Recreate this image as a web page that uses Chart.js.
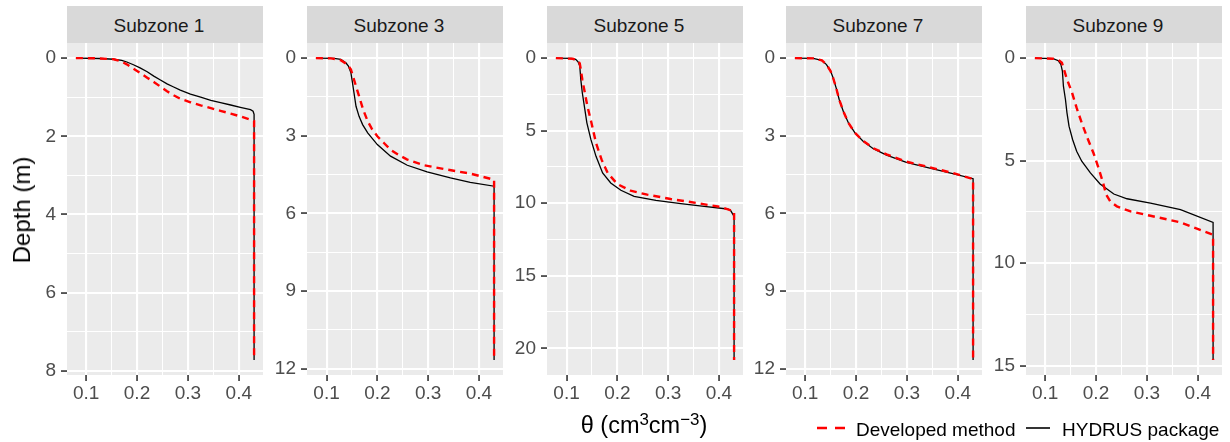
<!DOCTYPE html>
<html><head><meta charset="utf-8">
<script src="https://cdn.jsdelivr.net/npm/chart.js@4.4.1/dist/chart.umd.min.js"></script>
<style>
body{margin:0;width:1230px;height:442px;background:#fff;position:relative;overflow:hidden;font-family:"Liberation Sans",Arial,sans-serif;}
.strip{position:absolute;top:6px;height:37px;line-height:37px;padding-top:1px;padding-right:12px;box-sizing:border-box;background:#D9D9D9;color:#1A1A1A;font-size:19px;text-align:center;}
.cv{position:absolute;top:43px;}
.ytitle{position:absolute;left:22px;top:210px;transform:translate(-50%,-50%) rotate(-90deg);font-size:24px;color:#000;white-space:nowrap;line-height:1;}
.xtitle{position:absolute;left:444px;width:400px;top:414px;text-align:center;font-size:23.5px;line-height:1;color:#000;white-space:nowrap;}
.xtitle .sp{position:relative;top:-0.45em;font-size:0.72em;line-height:0;}
.leg{position:absolute;top:420px;font-size:19px;line-height:1;color:#000;white-space:nowrap;}
.key{position:absolute;top:418px;}
</style></head><body>
<div id="root"></div>
<div class="ytitle">Depth (m)</div>
<div class="xtitle">θ (cm<span class="sp">3</span>cm<span class="sp">−3</span>)</div>
<svg class="key" style="left:815px" width="32" height="20"><line x1="2" y1="10" x2="30" y2="10" stroke="#FF0000" stroke-width="2.6" stroke-dasharray="10,8"/></svg>
<div class="leg" style="left:856px">Developed method</div>
<svg class="key" style="left:1024px" width="28" height="20"><line x1="2" y1="10" x2="26" y2="10" stroke="#000" stroke-width="1.6"/></svg>
<div class="leg" style="left:1062px">HYDRUS package</div>
<script>
// ---- data ----
const panelTitles = ['Subzone 1', 'Subzone 3', 'Subzone 5', 'Subzone 7', 'Subzone 9'];
const seriesNames = ['Developed method', 'HYDRUS package'];
const xTickLabels = [0.1, 0.2, 0.3, 0.4];
const yTicks1 = [0, 2, 4, 6, 8];
const yTicks3 = [0, 3, 6, 9, 12];
const yTicks5 = [0, 5, 10, 15, 20];
const yTicks7 = [0, 3, 6, 9, 12];
const yTicks9 = [0, 5, 10, 15];

// Subzone 1
const sz1DevTheta = [0.08, 0.12, 0.154, 0.168, 0.18, 0.193, 0.206, 0.22, 0.233, 0.246, 0.259, 0.272, 0.285, 0.305, 0.325, 0.345, 0.364, 0.384, 0.403, 0.43, 0.43];
const sz1DevDepth = [0, 0.005, 0.03, 0.08, 0.16, 0.27, 0.38, 0.5, 0.61, 0.73, 0.85, 0.95, 1.04, 1.13, 1.21, 1.28, 1.35, 1.42, 1.49, 1.61, 7.72];
const sz1HydTheta = [0.08, 0.128, 0.154, 0.17, 0.18, 0.193, 0.206, 0.22, 0.233, 0.246, 0.259, 0.272, 0.285, 0.305, 0.325, 0.345, 0.364, 0.384, 0.403, 0.423, 0.428, 0.43, 0.43];
const sz1HydDepth = [0, 0.01, 0.03, 0.06, 0.1, 0.17, 0.25, 0.35, 0.46, 0.56, 0.66, 0.74, 0.82, 0.92, 1.0, 1.08, 1.14, 1.2, 1.26, 1.32, 1.36, 1.44, 7.72];
// Subzone 3
const sz3DevTheta = [0.079, 0.109, 0.128, 0.141, 0.148, 0.154, 0.164, 0.172, 0.181, 0.19, 0.2, 0.213, 0.226, 0.242, 0.259, 0.292, 0.338, 0.383, 0.43, 0.43];
const sz3DevDepth = [0, 0.01, 0.08, 0.25, 0.44, 0.83, 1.47, 1.99, 2.44, 2.76, 3.02, 3.28, 3.54, 3.74, 3.92, 4.14, 4.31, 4.46, 4.7, 11.66];
const sz3HydTheta = [0.079, 0.115, 0.128, 0.138, 0.143, 0.148, 0.151, 0.154, 0.158, 0.164, 0.171, 0.181, 0.2, 0.226, 0.259, 0.298, 0.344, 0.383, 0.43, 0.43];
const sz3HydDepth = [0, 0.01, 0.05, 0.18, 0.31, 0.57, 0.95, 1.34, 1.86, 2.25, 2.57, 2.89, 3.34, 3.79, 4.14, 4.4, 4.63, 4.8, 4.95, 11.66];
// Subzone 5
const sz5DevTheta = [0.079, 0.112, 0.122, 0.126, 0.128, 0.131, 0.136, 0.141, 0.149, 0.158, 0.169, 0.181, 0.2, 0.226, 0.259, 0.305, 0.357, 0.403, 0.43, 0.43];
const sz5DevDepth = [0, 0.05, 0.16, 0.37, 0.78, 1.47, 2.39, 3.31, 4.46, 5.85, 7.0, 7.92, 8.68, 9.14, 9.41, 9.71, 9.99, 10.26, 10.56, 20.8];
const sz5HydTheta = [0.079, 0.109, 0.118, 0.123, 0.126, 0.128, 0.131, 0.135, 0.14, 0.148, 0.158, 0.171, 0.187, 0.207, 0.233, 0.276, 0.325, 0.371, 0.417, 0.423, 0.43, 0.43];
const sz5HydDepth = [0, 0.02, 0.09, 0.28, 0.55, 1.47, 2.39, 3.31, 4.46, 5.62, 6.77, 7.92, 8.61, 9.11, 9.53, 9.8, 10.03, 10.22, 10.4, 10.49, 10.91, 20.8];
// Subzone 7
const sz7DevTheta = [0.08, 0.116, 0.133, 0.142, 0.15, 0.155, 0.161, 0.167, 0.175, 0.185, 0.198, 0.214, 0.234, 0.26, 0.299, 0.345, 0.39, 0.43, 0.43];
const sz7DevDepth = [0, 0.01, 0.09, 0.25, 0.5, 0.76, 1.15, 1.6, 2.05, 2.5, 2.89, 3.2, 3.48, 3.72, 4.0, 4.22, 4.44, 4.67, 11.66];
const sz7HydTheta = [0.08, 0.116, 0.133, 0.142, 0.15, 0.155, 0.161, 0.167, 0.175, 0.185, 0.198, 0.214, 0.234, 0.26, 0.299, 0.345, 0.39, 0.43, 0.43];
const sz7HydDepth = [0, 0.01, 0.09, 0.25, 0.5, 0.76, 1.15, 1.6, 2.05, 2.5, 2.89, 3.21, 3.5, 3.75, 4.03, 4.25, 4.46, 4.66, 11.66];
// Subzone 9
const sz9DevTheta = [0.08, 0.116, 0.126, 0.133, 0.137, 0.143, 0.153, 0.162, 0.172, 0.183, 0.195, 0.205, 0.214, 0.22, 0.228, 0.241, 0.268, 0.307, 0.366, 0.43, 0.43];
const sz9DevDepth = [0, 0.03, 0.08, 0.23, 0.55, 1.04, 1.69, 2.43, 3.16, 3.89, 4.63, 5.36, 6.09, 6.66, 6.99, 7.23, 7.48, 7.69, 8.01, 8.62, 14.72];
const sz9HydTheta = [0.08, 0.116, 0.126, 0.131, 0.134, 0.136, 0.14, 0.143, 0.147, 0.154, 0.162, 0.172, 0.189, 0.208, 0.235, 0.261, 0.307, 0.366, 0.43, 0.43];
const sz9HydDepth = [0, 0.03, 0.13, 0.31, 0.64, 1.37, 2.02, 2.67, 3.32, 3.97, 4.54, 5.03, 5.6, 6.14, 6.63, 6.86, 7.07, 7.39, 8.01, 14.72];

// ---- layout ----
const panels = [
  {title: panelTitles[0], yTicks: yTicks1, dev: [sz1DevTheta, sz1DevDepth], hyd: [sz1HydTheta, sz1HydDepth]},
  {title: panelTitles[1], yTicks: yTicks3, dev: [sz3DevTheta, sz3DevDepth], hyd: [sz3HydTheta, sz3HydDepth]},
  {title: panelTitles[2], yTicks: yTicks5, dev: [sz5DevTheta, sz5DevDepth], hyd: [sz5HydTheta, sz5HydDepth]},
  {title: panelTitles[3], yTicks: yTicks7, dev: [sz7DevTheta, sz7DevDepth], hyd: [sz7HydTheta, sz7HydDepth]},
  {title: panelTitles[4], yTicks: yTicks9, dev: [sz9DevTheta, sz9DevDepth], hyd: [sz9HydTheta, sz9HydDepth]}
];
const panelLeft = [67, 307, 547, 786, 1026];
const panelW = 196, panelH = 332, yAxisW = 46, xAxisH = 42;
const FONT = '"Liberation Sans", Arial, sans-serif';

function withMinor(major) {
  const out = [];
  major.forEach((v, i) => {
    out.push(v);
    if (i < major.length - 1) out.push((v + major[i + 1]) / 2);
  });
  return out;
}
const toPts = (xs, ys) => xs.map((x, i) => ({x: x, y: ys[i]}));

const bgPlugin = {
  id: 'panelBg',
  beforeDraw(chart) {
    const a = chart.chartArea, c = chart.ctx;
    c.save(); c.fillStyle = '#EBEBEB';
    c.fillRect(a.left, a.top, a.right - a.left, a.bottom - a.top);
    c.restore();
  }
};

const root = document.getElementById('root');
panels.forEach((p, i) => {
  const L = panelLeft[i];
  const strip = document.createElement('div');
  strip.className = 'strip';
  strip.style.left = L + 'px'; strip.style.width = panelW + 'px';
  strip.textContent = p.title;
  root.appendChild(strip);

  const wrap = document.createElement('div');
  wrap.className = 'cv';
  wrap.style.left = (L - yAxisW) + 'px';
  wrap.style.width = (panelW + yAxisW) + 'px';
  wrap.style.height = (panelH + xAxisH) + 'px';
  const cv = document.createElement('canvas');
  wrap.appendChild(cv); root.appendChild(wrap);

  const allX = p.dev[0].concat(p.hyd[0]);
  const allY = p.dev[1].concat(p.hyd[1]);
  const xmin = Math.min(...allX), xmax = Math.max(...allX);
  const ymin = Math.min(...allY), ymax = Math.max(...allY);
  const ex = (xmax - xmin) * 0.05, ey = (ymax - ymin) * 0.05;
  const xT = withMinor(xTickLabels), yT = withMinor(p.yTicks);

  const gridOpts = {
    color: '#FFFFFF',
    lineWidth: ctx => (ctx.index % 2 === 0 ? 2.1 : 1.05),
    tickColor: ctx => (ctx.index % 2 === 0 ? '#333333' : 'rgba(0,0,0,0)'),
    tickWidth: 1.6,
    tickLength: 6,
    drawTicks: true
  };

  new Chart(cv, {
    type: 'scatter',
    data: {
      datasets: [
        {label: seriesNames[0], data: toPts(p.dev[0], p.dev[1]), showLine: true, borderColor: '#FF0000', borderWidth: 2.4, borderDash: [7, 5], pointRadius: 0, tension: 0, order: 0},
        {label: seriesNames[1], data: toPts(p.hyd[0], p.hyd[1]), showLine: true, borderColor: '#000000', borderWidth: 1.3, pointRadius: 0, tension: 0, order: 1}
      ]
    },
    options: {
      responsive: true, maintainAspectRatio: false, animation: false,
      layout: {padding: 0},
      plugins: {legend: {display: false}, tooltip: {enabled: false}},
      scales: {
        x: {
          type: 'linear', min: xmin - ex, max: xmax + ex,
          border: {display: false},
          grid: gridOpts,
          afterBuildTicks: s => { s.ticks = xT.map(v => ({value: v})); },
          afterFit: s => { s.height = xAxisH; s.paddingLeft = 0; s.paddingRight = 0; },
          ticks: {autoSkip: false, maxRotation: 0, padding: 1, color: '#4D4D4D', font: {family: FONT, size: 19},
            callback: (v, idx) => (idx % 2 === 0 ? Number(v).toFixed(1) : '')}
        },
        y: {
          type: 'linear', reverse: true, min: ymin - ey, max: ymax + ey,
          border: {display: false},
          grid: gridOpts,
          afterBuildTicks: s => { s.ticks = yT.map(v => ({value: v})); },
          afterFit: s => { s.width = yAxisW; s.paddingTop = 0; s.paddingBottom = 0; },
          ticks: {autoSkip: false, padding: 5, color: '#4D4D4D', font: {family: FONT, size: 19},
            callback: (v, idx) => (idx % 2 === 0 ? String(v) : '')}
        }
      }
    },
    plugins: [bgPlugin]
  });
});
</script>
</body></html>
